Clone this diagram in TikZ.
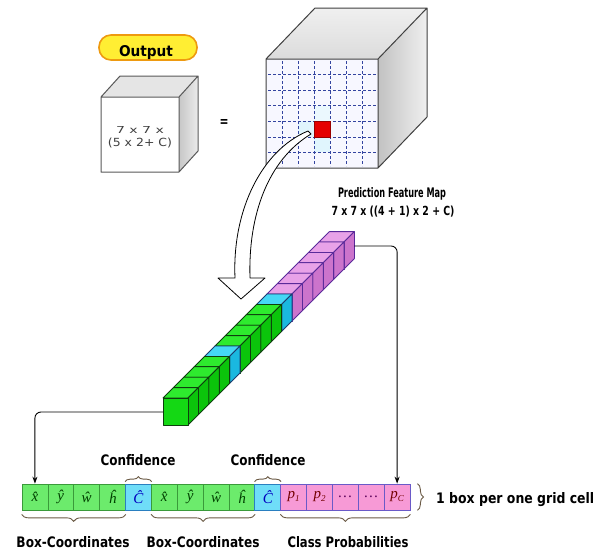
\documentclass[tikz,border=0pt]{standalone}
\usepackage{fontspec}
\setmainfont{DejaVu Sans}
\newfontfamily\cellfont{Liberation Serif}
\usepackage{graphicx}
\usetikzlibrary{decorations.pathreplacing,arrows.meta}
\definecolor{Gf}{HTML}{14D814}
\definecolor{Gt}{HTML}{2EEA2E}
\definecolor{Gs}{HTML}{0BC40B}
\definecolor{GE}{HTML}{0E3E0E}
\definecolor{Cf}{HTML}{22C8EE}
\definecolor{Ct}{HTML}{45D8F5}
\definecolor{Cs}{HTML}{1AB8E0}
\definecolor{CE}{HTML}{1A3C70}
\definecolor{Pf}{HTML}{DD88DD}
\definecolor{Pt}{HTML}{E8A2E8}
\definecolor{Ps}{HTML}{CC74CC}
\definecolor{PE}{HTML}{5A2A9A}
\definecolor{cellG}{HTML}{6CEB6C}
\definecolor{cellGE}{HTML}{3A9A3A}
\definecolor{cellC}{HTML}{6FDDF8}
\definecolor{cellCE}{HTML}{2A7FC0}
\definecolor{cellP}{HTML}{F79AD6}
\definecolor{cellPE}{HTML}{6A5AC8}
\definecolor{braceC}{HTML}{6B5A45}
\definecolor{pillF}{HTML}{FFEE33}
\definecolor{pillE}{HTML}{EE9A10}
\definecolor{gridC}{HTML}{3344A0}
\newcommand\fitt[3]{\resizebox{#1pt}{#2pt}{#3}}
\newcommand\pidx[1]{p{\fontsize{9}{9}\selectfont\raisebox{-2.5pt}{#1}}}
\begin{document}
\begin{tikzpicture}[x=1pt,y=-1pt,
  lbl/.style={inner sep=0pt, anchor=base},
  cell/.style={draw, line width=0.7pt, minimum width=25.87pt, minimum height=26pt, inner sep=0pt},
  gcell/.style={cell, fill=cellG, draw=cellGE},
  ccell/.style={cell, fill=cellC, draw=cellCE},
  pcell/.style={cell, fill=cellP, draw=cellPE},
  celltxt/.style={inner sep=0pt, font=\cellfont\itshape\fontsize{15}{15}\selectfont},
  br/.style={decorate, decoration={brace, amplitude=#1}, draw=braceC, line width=0.9pt},
  br/.default=5,
  brm/.style={decorate, decoration={brace, mirror, amplitude=#1}, draw=braceC, line width=0.9pt},
  brm/.default=7,
  conn/.style={draw=black, line width=0.9pt, rounded corners=6pt},
  cubeedge/.style={draw=black!75, line width=1pt, line join=round},
  gridl/.style={draw=gridC, densely dashed, line width=0.5pt}
]
\useasboundingbox[fill=white] (0,0) rectangle (599,552);

% ---------- small output cube ----------
\fill[black!10] (101,97) -- (120,76) -- (198,76) -- (179,97) -- cycle;
\shade[left color=black!22, right color=black!8] (179,97) -- (198,76) -- (198,151) -- (179,172) -- cycle;
\fill[white] (101,97) rectangle (179,172);
\draw[cubeedge, draw=black!65] (101,97) -- (120,76) -- (198,76) -- (179,97) -- cycle
  (179,97) -- (198,76) -- (198,151) -- (179,172)
  (101,97) rectangle (179,172);
\node[lbl, text=black!75] (o1) at (140,133) {\fitt{48}{7}{7 x 7 x}};
\node[lbl, text=black!75] (o2) at (140,146) {\fitt{64}{8.5}{(5 x 2+ C)}};

% Output pill
\node[draw=pillE, fill=pillF, line width=1.6pt, rounded corners=12pt, minimum width=98pt, minimum height=25pt] (pill) at (148,47.5) {};
\node[lbl] (outl) at (146,56) {\fitt{54}{11}{\bfseries Output}};

% equals
\node[lbl] (eq) at (224,126) {\fitt{9}{7}{\bfseries =}};

% ---------- big feature cube ----------
\shade[top color=black!6, bottom color=black!14] (266,59) -- (315,8) -- (427,8) -- (378,59) -- cycle;
\shade[left color=black!24, right color=black!6] (378,59) -- (427,8) -- (427,117) -- (378,168) -- cycle;
\fill[blue!3] (266,59) rectangle (378,168);
% pale highlight around chosen cell
\fill[cyan!12] (298,121.29) rectangle (314,136.86);
\fill[cyan!12] (314,136.86) rectangle (330,152.43);
\fill[cyan!8] (314,105.71) rectangle (330,121.29);
\foreach \k in {1,...,6}{
  \draw[gridl] ({266+\k*16},61) -- ({266+\k*16},166);
  \draw[gridl] (268,{59+\k*109/7}) -- (376,{59+\k*109/7});
}
\filldraw[fill=red!90!black, draw=red!60!black, line width=0.6pt] (314,121.29) rectangle (330,136.86);
\draw[cubeedge] (266,59) -- (315,8) -- (427,8) -- (378,59)
  (378,59) -- (427,8) -- (427,117) -- (378,168)
  (266,59) rectangle (378,168);

% hollow curved arrow
\draw[fill=white, line width=0.8pt, line join=round] (308,131) .. controls (262,150) and (232,210) .. (235,278)
  -- (218,278) -- (241,299) -- (265,278) -- (250,278)
  .. controls (248,215) and (268,160) .. (311,134) -- cycle;

\node[lbl] (pfm1) at (392,197.5) {\fitt{108}{10}{\bfseries Prediction Feature Map}};
\node[lbl] (pfm2) at (393,215.5) {\fitt{123}{9.5}{\bfseries 7 x 7 x ((4 + 1) x 2 + C)}};

% ---------- bar of cubes ----------
\foreach \i/\col in {15/P,14/P,13/P,12/P,11/P,10/P,9/C,8/G,7/G,6/G,5/G,4/C,3/G,2/G,1/G,0/G}{
  \pgfmathsetmacro\bx{163+\i*10.4}
  \pgfmathsetmacro\by{398-\i*10.4}
  \filldraw[fill=\col t, draw=\col E, line width=0.8pt, line join=round]
    (\bx,\by) -- ++(25,0) -- ++(10.4,-10.4) -- ++(-25,0) -- cycle;
  \filldraw[fill=\col s, draw=\col E, line width=0.8pt, line join=round]
    ({\bx+25},\by) -- ++(10.4,-10.4) -- ++(0,27) -- ++(-10.4,10.4) -- cycle;
  \filldraw[fill=\col f, draw=\col E, line width=0.8pt, line join=round]
    (\bx,\by) rectangle ++(25,27);
}
\coordinate (barL) at (163,412);
\coordinate (barR) at (354.4,246);

% ---------- bottom vector ----------
\foreach \k/\sty/\tc/\txt in {1/gcell/green!25!black/{x̂},2/gcell/green!25!black/{ŷ},3/gcell/green!25!black/{ŵ},4/gcell/green!25!black/{ĥ},5/ccell/blue!75!black/{Ĉ},
  6/gcell/green!25!black/{x̂},7/gcell/green!25!black/{ŷ},8/gcell/green!25!black/{ŵ},9/gcell/green!25!black/{ĥ},10/ccell/blue!75!black/{Ĉ},
  11/pcell/red!45!black/{\pidx{1}},12/pcell/red!45!black/{\pidx{2}},13/pcell/violet!70!black/{…},14/pcell/violet!70!black/{…},15/pcell/red!45!black/{\pidx{C}}}{
  \node[\sty] (c\k) at ({22+25.87*(\k-0.5)},497) {};
  \node[celltxt, text=\tc] (t\k) at (c\k.center) {\txt};
}

\draw[conn, -{Stealth[length=7pt,width=5pt]}] (barL) -| (c1.north);
\draw[conn, -{Stealth[length=7pt,width=5pt]}] (barR) -| (c15.north);

% braces
\draw[br=5] ([yshift=2pt]c5.north west) -- ([yshift=2pt]c5.north east);
\draw[br=5] ([yshift=2pt]c10.north west) -- ([yshift=2pt]c10.north east);
\draw[brm=7] ([yshift=-4pt]c1.south west) -- ([yshift=-4pt]c4.south east);
\draw[brm=7] ([yshift=-4pt]c6.south west) -- ([yshift=-4pt]c9.south east);
\draw[brm=7] ([yshift=-4pt]c11.south west) -- ([yshift=-4pt]c15.south east);
\draw[br=6] ([xshift=7pt]c15.north east) -- ([xshift=7pt]c15.south east);

\node[lbl] (conf1) at (138,465) {\fitt{75}{11}{\bfseries Confidence}};
\node[lbl] (conf2) at (268,465) {\fitt{75}{11}{\bfseries Confidence}};
\node[lbl] (bc1) at (73,547.5) {\fitt{113}{11}{\bfseries Box-Coordinates}};
\node[lbl] (bc2) at (203,547.5) {\fitt{113}{11}{\bfseries Box-Coordinates}};
\node[lbl] (cp) at (348,547.5) {\fitt{121}{11}{\bfseries Class Probabilities}};
\node[lbl, anchor=base west] (grid) at (436,503) {\fitt{158}{11}{\bfseries 1 box per one grid cell}};
\end{tikzpicture}
\end{document}
